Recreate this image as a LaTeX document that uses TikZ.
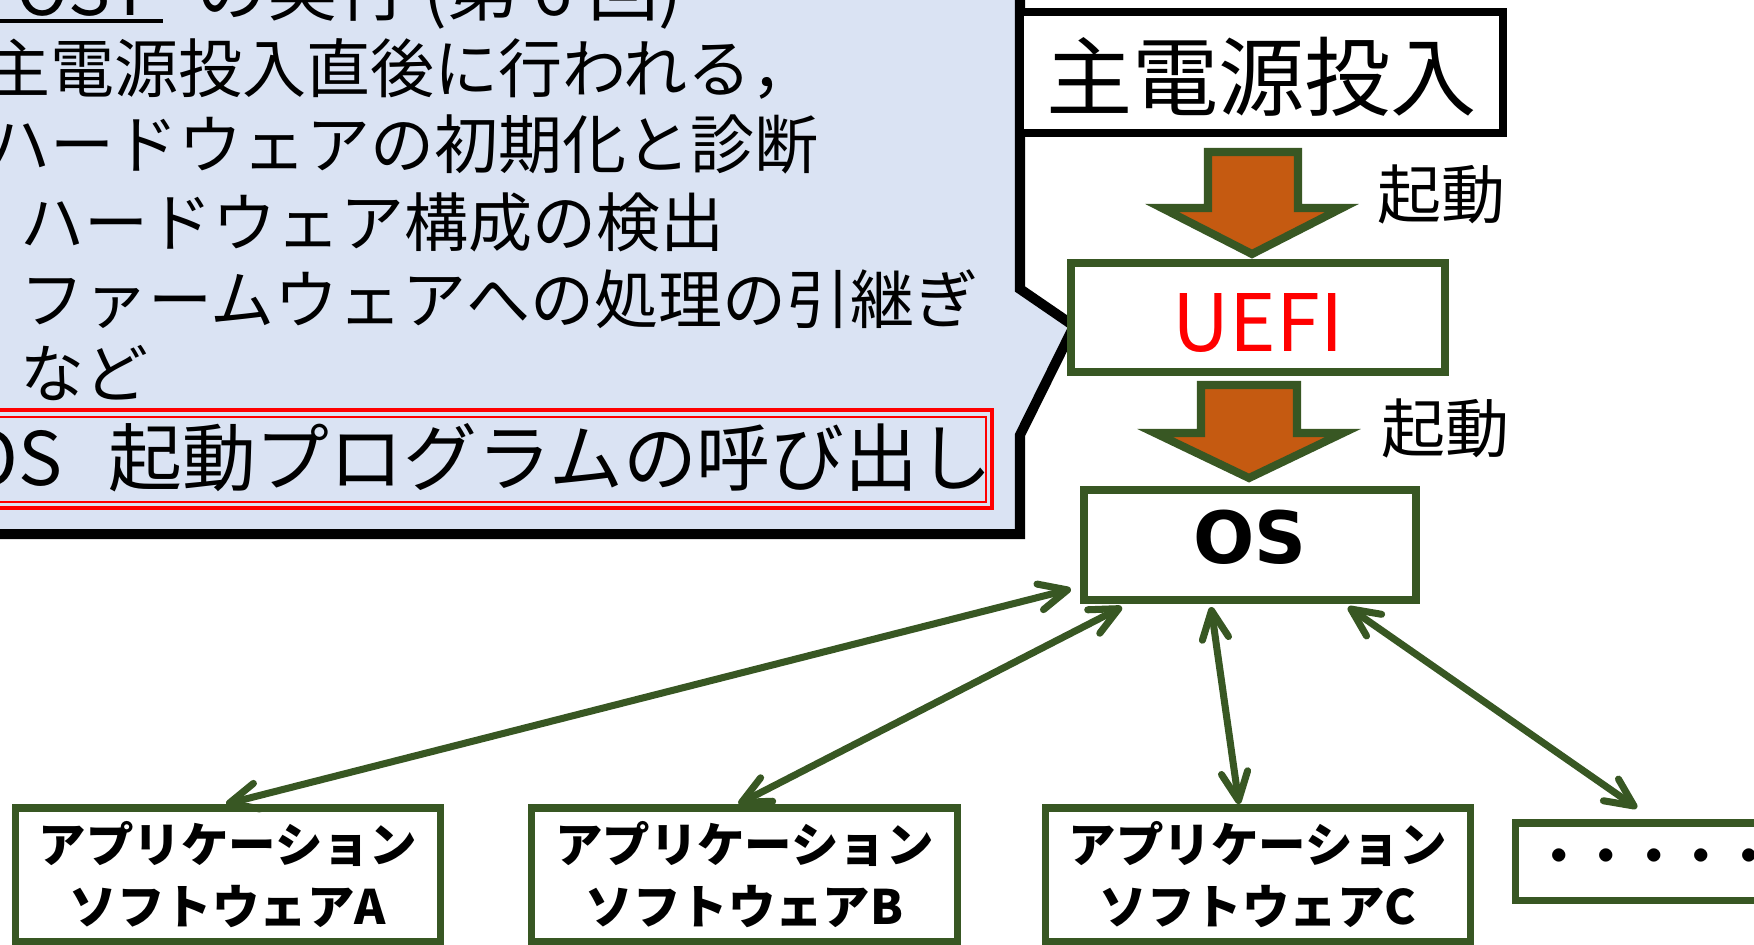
\documentclass[tikz,border=0pt]{standalone}
\usepackage{fontspec}
\setmainfont{Noto Sans CJK JP}
\newfontfamily\osfont{DejaVu Sans}
\usetikzlibrary{arrows.meta}
\definecolor{calbg}{HTML}{DAE3F3}
\definecolor{grn}{HTML}{385723}
\definecolor{org}{HTML}{C55A11}
\definecolor{red0}{HTML}{FF0000}
\begin{document}
\begin{tikzpicture}[x=0.01cm, y=-0.01cm,
  txt/.style={inner sep=0pt, anchor=base west, font=\fontsize{18.2}{22}\selectfont},
  gbox/.style={draw=grn, line width=2.3pt, fill=white, inner sep=0pt, outer sep=0pt},
  abox/.style={draw=grn, line width=2pt, fill=white, inner sep=0pt, outer sep=0pt, minimum height=1.33cm, align=center, font=\bfseries\fontsize{13.5}{17.4}\selectfont},
  blk/.style={draw=grn, line width=2.3pt, fill=org},
  dbl/.style={grn, line width=2pt, >={Straight Barb[length=8pt,width=7.5pt,round]}, <->}]
\useasboundingbox (0,0) rectangle (1754,944);
\fill[white] (0,0) rectangle (1754,944);
\draw[fill=calbg, line width=2.85pt] (-60,-120) -- (1020,-120) -- (1020,289) -- (1074,326) -- (1020,435) -- (1020,534) -- (-60,534) -- cycle;
\node[txt, anchor=base east, font=\fontsize{20}{24}\selectfont] (ttl0) at (152,15) {POST};
\node[txt, font=\fontsize{20}{24}\selectfont] (ttl1) at (196,15) {の実行 (第 6 回)};
\draw[line width=1.2pt]([shift={(0,6)}]ttl0.base west) -- ([shift={(11,6)}]ttl0.base east);
\node[txt] (ln1) at (-14,92) {主電源投入直後に行われる，};
\node[txt] (ln2) at (-14,168) {ハードウェアの初期化と診断};
\node[txt] (ln3) at (20,246) {ハードウェア構成の検出};
\node[txt] (ln4) at (20,323) {ファームウェアへの処理の引継ぎ};
\node[txt] (ln5) at (20,397) {など};
\draw[red0, line width=1.4pt] (-30,410) rectangle (992,508);
\draw[red0, line width=0.45pt] (-30,417) rectangle (986,502);
\node[txt, anchor=base east, font=\fontsize{21}{25}\selectfont] (ln6) at (993,485) {OS\hspace{0.62em}起動プログラムの呼び出し};
\node[draw, line width=2.3pt, fill=white, inner sep=0pt, outer sep=0pt, minimum width=4.83cm, minimum height=1.21cm, font=\fontsize{24.5}{28}\selectfont] (pwr) at (1261.5,72.5) {\raisebox{-0.04cm}[\height][\depth]{主電源投入}};
\node[gbox, minimum width=3.74cm, minimum height=1.09cm, text=red0, font=\fontsize{22.5}{26}\selectfont] (uefi) at (1258,317.5) {\raisebox{-0.05cm}[\height][\depth]{UEFI}};
\node[gbox, minimum width=3.32cm, minimum height=1.10cm, text depth=4.5pt, font=\osfont\bfseries\fontsize{20.5}{24}\selectfont] (os) at (1250,545) {OS};
\draw[blk] (1208,152) -- (1298,152) -- (1298,208) -- (1342,208) -- (1252,254) -- (1162,208) -- (1208,208) -- cycle;
\draw[blk] (1201,385) -- (1297,385) -- (1297,433) -- (1343,433) -- (1249,478) -- (1155,433) -- (1201,433) -- cycle;
\node[txt, anchor=center] (lbl0) at (1441,194) {起動};
\node[txt, anchor=center] (lbl1) at (1445,428) {起動};
\node[abox, minimum width=4.24cm] (app0) at (228,874.5) {アプリケーション\\ソフトウェアA};
\node[abox, minimum width=4.25cm] (app1) at (744.5,874.5) {アプリケーション\\ソフトウェアB};
\node[abox, minimum width=4.24cm] (app2) at (1258,874.5) {アプリケーション\\ソフトウェアC};
\node[abox, minimum width=2.76cm, minimum height=0.77cm] (app3) at (1654,861.5) {・・・・・};
\draw[dbl]([shift={(-13,-11)}]os.south west) -- ([shift={(-2,-4)}]app0.north);
\draw[dbl]([shift={(38,7)}]os.south west) -- ([shift={(-6,-4)}]app1.north);
\draw[dbl]([shift={(-39,7)}]os.south) -- ([shift={(-19,-4)}]app2.north);
\draw[dbl]([shift={(-68,7)}]os.south east) -- ([shift={(121,-15)}]app3.north west);
\end{tikzpicture}
\end{document}
